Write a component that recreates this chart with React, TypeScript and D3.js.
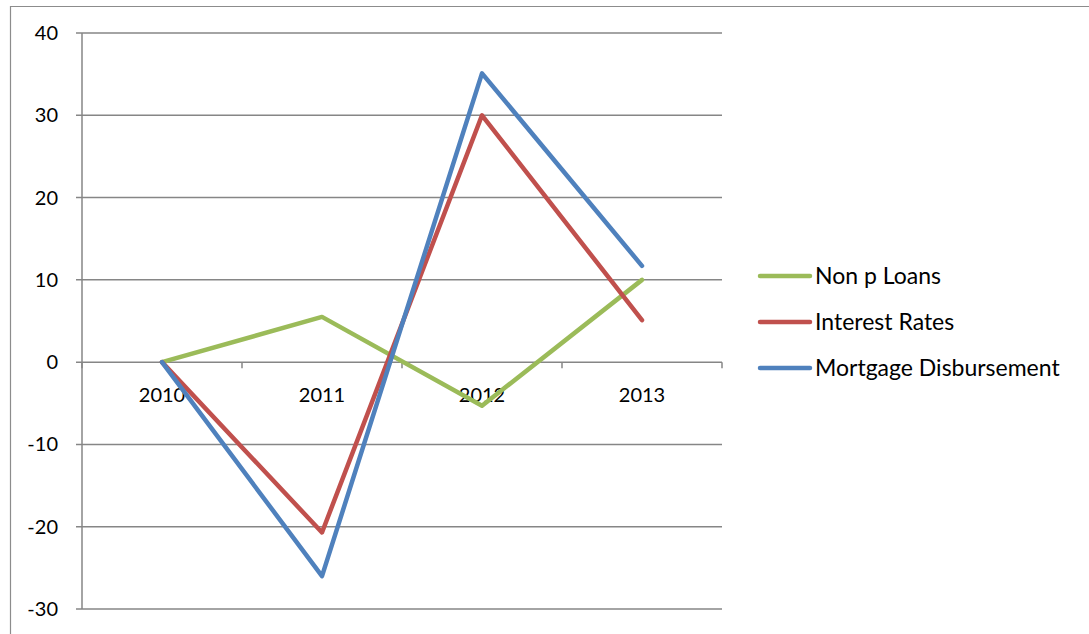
import React from "react";
import * as d3 from "d3";

const categories = ["2010", "2011", "2012", "2013"];
const seriesNames = ["Non p Loans", "Interest Rates", "Mortgage Disbursement"];
const nonPLoans = [0, 5.5, -5.3, 10];
const interestRates = [0, -20.7, 30, 5.1];
const mortgageDisbursement = [0, -26, 35.1, 11.7];
const yTicks = [40, 30, 20, 10, 0, -10, -20, -30];
const colors = ["#9BBB59", "#C0504D", "#4F81BD"];

const W = 1089;
const H = 634;
const left = 82;
const right = 722;
const top = 33;
const bottom = 609;
const font = "Lato, 'Open Sans', sans-serif";

export default function App() {
  const x = d3.scaleBand<string>().domain(categories).range([left, right]);
  const y = d3.scaleLinear().domain([-30, 40]).range([bottom, top]);
  const line = d3
    .line<number>()
    .x((_, i) => (x(categories[i]) as number) + x.bandwidth() / 2)
    .y((d) => y(d));
  const data = [nonPLoans, interestRates, mortgageDisbursement];
  const bandEdges = categories.map((c) => x(c) as number).concat([right]);
  const legendY = [276, 322, 368];

  return (
    <svg
      width={W}
      height={H}
      style={{ position: "absolute", left: 0, top: 0, background: "#fff" }}
    >
      <rect x={0} y={0} width={W} height={H} fill="#fff" />
      <line x1={10.5} y1={6} x2={10.5} y2={H} stroke="#8c8c8c" strokeWidth={1.2} />
      <line x1={10} y1={6.5} x2={W} y2={6.5} stroke="#8c8c8c" strokeWidth={1.2} />
      {yTicks.map((t) => (
        <g key={t}>
          <line x1={left - 6} x2={right} y1={y(t)} y2={y(t)} stroke="#868686" strokeWidth={1.5} />
          <text
            x={58}
            y={y(t) + 7}
            textAnchor="end"
            fontFamily={font}
            fontSize={20}
            fill="#000"
          >
            {t}
          </text>
        </g>
      ))}
      <line x1={left} x2={left} y1={top} y2={bottom} stroke="#868686" strokeWidth={1.5} />
      {bandEdges.map((e, i) => (
        <line key={i} x1={e} x2={e} y1={y(0)} y2={y(0) + 6} stroke="#868686" strokeWidth={1.5} />
      ))}
      {categories.map((c) => (
        <text
          key={c}
          x={(x(c) as number) + x.bandwidth() / 2}
          y={402}
          textAnchor="middle"
          fontFamily={font}
          fontSize={20}
          fill="#000"
        >
          {c}
        </text>
      ))}
      {data.map((d, i) => (
        <path
          key={i}
          d={line(d) || ""}
          fill="none"
          stroke={colors[i]}
          strokeWidth={4.5}
          strokeLinejoin="round"
          strokeLinecap="round"
        />
      ))}
      {seriesNames.map((n, i) => (
        <g key={n}>
          <line
            x1={760}
            x2={810}
            y1={legendY[i]}
            y2={legendY[i]}
            stroke={colors[i]}
            strokeWidth={4.5}
            strokeLinecap="round"
          />
          <text x={815} y={legendY[i] + 8} fontFamily={font} fontSize={23} fill="#000">
            {n}
          </text>
        </g>
      ))}
    </svg>
  );
}
